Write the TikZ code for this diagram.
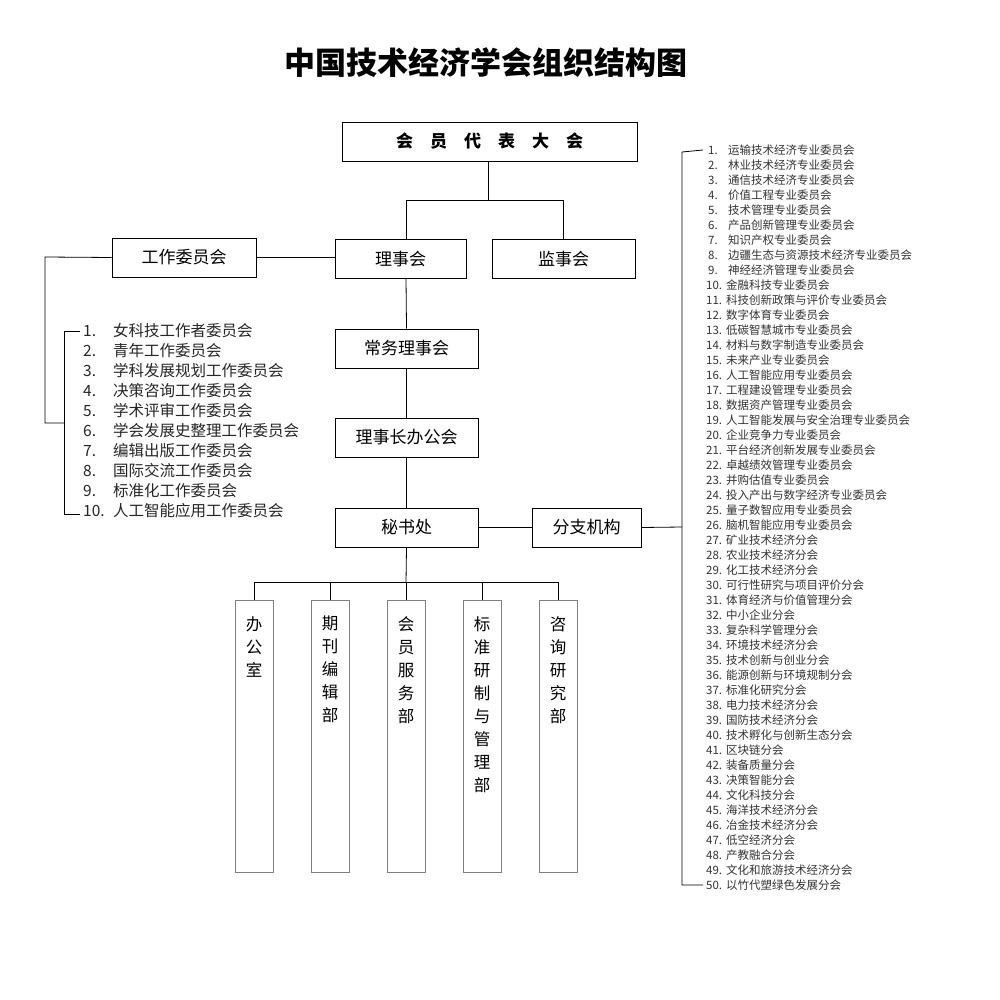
\documentclass[tikz,border=0pt]{standalone}
\usepackage{fontspec}
\setmainfont{Noto Sans CJK SC}
\usetikzlibrary{positioning}
\tikzset{
	box/.style={draw,thick,minimum width=143pt,minimum height=39pt,inner sep=0pt,font=\fontsize{17}{19}\selectfont},
	dept/.style={draw,thin,gray,minimum width=38pt,minimum height=272pt,anchor=north},
	depttext/.style={anchor=north,align=center,font=\fontsize{16.5}{23}\selectfont,inner sep=0pt},
	litem/.style={anchor=west,inner sep=0pt,font=\fontsize{15.5}{17}\selectfont,text=black!85},
	ritem/.style={anchor=west,inner sep=0pt,font=\fontsize{11.5}{13}\selectfont,text=black!80},
}
\begin{document}
\begin{tikzpicture}[x=1pt,y=-1pt]
	\useasboundingbox (0,0) rectangle (1000,1000);
	\node (title) at (486,63) {\fontsize{31}{34}\selectfont\bfseries 中国技术经济学会组织结构图};
	
	\node[box,minimum width=295pt] (dahui) at (489.5,141.5) {\bfseries 会\quad 员\quad 代\quad 表\quad 大\quad 会};
	\node[box,minimum width=131pt] (lsh) at (400.5,259) {理事会};
	\node[box] (jsh) at (563.5,259) {监事会};
	\node[box,minimum width=144pt] (gzwy) at (184,257.5) {工作委员会};
	\node[box] (cwlsh) at (406.5,348.5) {常务理事会};
	\node[box] (bgh) at (406.5,437.5) {理事长办公会};
	\node[box] (msc) at (406.5,527.5) {秘书处};
	\node[box,minimum width=109pt] (fzjg) at (586.5,527.5) {分支机构};
	
	\coordinate (split) at (488,200);
	\coordinate (dsplit) at (406,582);
	\coordinate (lcorner) at (45,257);
	\coordinate (lbrack) at (64,423);
	\coordinate (rbrack) at (682,527);
	
	\draw[thick] (dahui.south -| split) -- (split);
	\draw[thick] (406,200) -- (563.5,200);
	\draw[thick] (406,200) -- (406,240);
	\draw[thick] (563.5,200) -- (jsh.north);
	\draw[thick] (406,278.5) -- (cwlsh.north);
	\draw[thick] (cwlsh) -- (bgh);
	\draw[thick] (bgh) -- (msc);
	\draw[thick] (gzwy.east) -- (gzwy.east -| lsh.west);
	\draw[thick] (msc) -- (fzjg);
	\draw[thick] (fzjg.east) -- (rbrack);
	\draw[thick] (gzwy.west) -- (lcorner) |- (lbrack);
	\draw[thick] (msc.south) -- (dsplit);
	
	% departments
	\foreach \i/\x/\t in {1/254/办\\公\\室, 2/330/期\\刊\\编\\辑\\部, 3/406/会\\员\\服\\务\\部, 4/482/标\\准\\研\\制\\与\\管\\理\\部, 5/558/咨\\询\\研\\究\\部}{
		\node[dept] (d\i) at (\x,600) {};
		\node[depttext] at ([yshift=-16pt]d\i.north) {\t};
	}
	\draw[thick] (d1.north) -- ++(0,-18) -| (d5.north);
	\foreach \i in {2,3,4} \draw[thick] (d\i.north) -- ++(0,-18);
	
	% working committees
	\draw[thick] (80,331) -- (64,331) -- (64,514) -- (80,514);
	\foreach \n/\t [count=\k from 0] in {1/女科技工作者委员会,2/青年工作委员会,3/学科发展规划工作委员会,4/决策咨询工作委员会,5/学术评审工作委员会,6/学会发展史整理工作委员会,7/编辑出版工作委员会,8/国际交流工作委员会,9/标准化工作委员会,10/人工智能应用工作委员会}{
		\node[litem] (wn\n) at (83,331+20*\k) {\n.};
		\node[litem] (wt\n) at (113,331+20*\k) {\t};
	}
	
	% branches
	\draw[thick] (703,150) -- (682,152) -- (682,885) -- (703,885);
	\foreach \n/\t [count=\k from 0] in {1/运输技术经济专业委员会,2/林业技术经济专业委员会,3/通信技术经济专业委员会,4/价值工程专业委员会,5/技术管理专业委员会,6/产品创新管理专业委员会,7/知识产权专业委员会,8/边疆生态与资源技术经济专业委员会,9/神经经济管理专业委员会,10/金融科技专业委员会,11/科技创新政策与评价专业委员会,12/数字体育专业委员会,13/低碳智慧城市专业委员会,14/材料与数字制造专业委员会,15/未来产业专业委员会,16/人工智能应用专业委员会,17/工程建设管理专业委员会,18/数据资产管理专业委员会,19/人工智能发展与安全治理专业委员会,20/企业竞争力专业委员会,21/平台经济创新发展专业委员会,22/卓越绩效管理专业委员会,23/并购估值专业委员会,24/投入产出与数字经济专业委员会,25/量子数智应用专业委员会,26/脑机智能应用专业委员会,27/矿业技术经济分会,28/农业技术经济分会,29/化工技术经济分会,30/可行性研究与项目评价分会,31/体育经济与价值管理分会,32/中小企业分会,33/复杂科学管理分会,34/环境技术经济分会,35/技术创新与创业分会,36/能源创新与环境规制分会,37/标准化研究分会,38/电力技术经济分会,39/国防技术经济分会,40/技术孵化与创新生态分会,41/区块链分会,42/装备质量分会,43/决策智能分会,44/文化科技分会,45/海洋技术经济分会,46/冶金技术经济分会,47/低空经济分会,48/产教融合分会,49/文化和旅游技术经济分会,50/以竹代塑绿色发展分会}{
		\ifnum\n<10
			\node[ritem] (bn\n) at (708,150+15*\k) {\n.};
		\else
			\node[ritem] (bn\n) at (706,150+15*\k) {\n.};
		\fi
		\node[ritem] (bt\n) at (\ifnum\n<10 728\else 726\fi,150+15*\k) {\t};
	}
\end{tikzpicture}
\end{document}
